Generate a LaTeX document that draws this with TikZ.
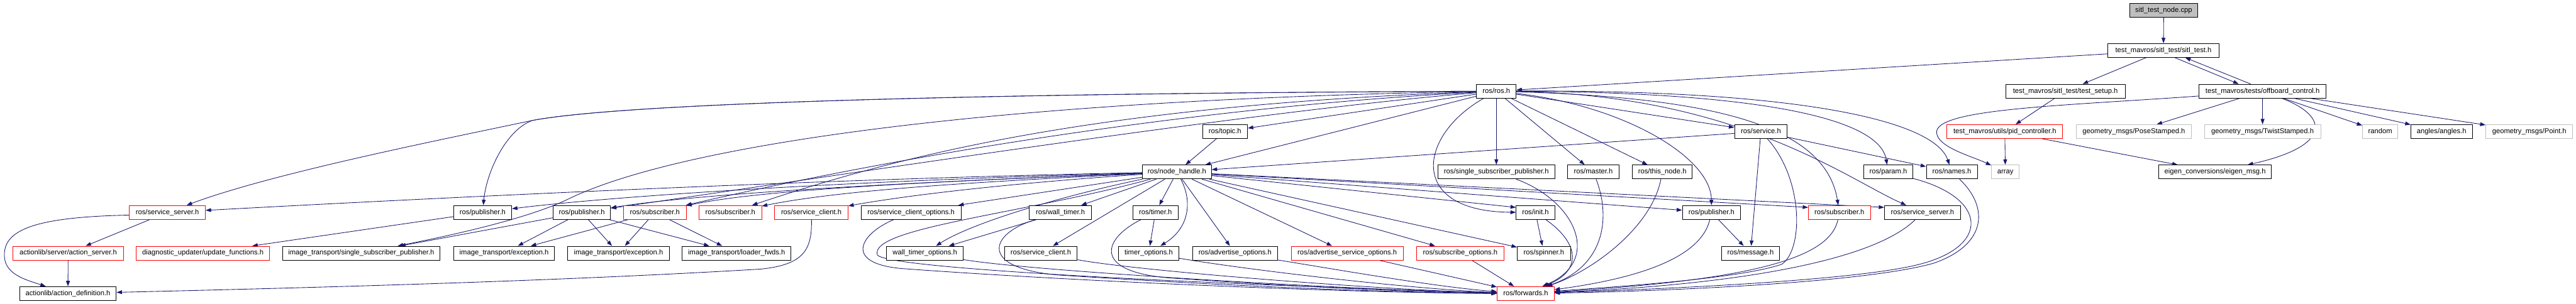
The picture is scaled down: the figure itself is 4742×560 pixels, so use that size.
\documentclass[tikz,border=0pt]{standalone}
\usepackage{fontspec}
\setmainfont{Liberation Sans}
\usetikzlibrary{arrows.meta}
\pgfdeclarelayer{background}
\pgfsetlayers{background,main}
\definecolor{edgec}{HTML}{191970}
\definecolor{redb}{HTML}{FF0000}
\definecolor{grayb}{HTML}{BFBFBF}
\definecolor{rootf}{HTML}{BFBFBF}
\tikzset{
  box/.style={draw=black, fill=white, line width=1pt, minimum height=25.5pt, inner sep=0pt,
    font=\fontsize{13pt}{15pt}\selectfont, text height=9.5pt, text depth=2.5pt},
  redbox/.style={box, draw=redb},
  graybox/.style={box, draw=grayb},
  rootbox/.style={box, fill=rootf},
  edge/.style={draw=edgec, line width=1pt, -{Triangle[length=10pt,width=7pt]}},
}
\begin{document}
\begin{tikzpicture}[x=1pt,y=-1pt]
\useasboundingbox (0,0) rectangle (4742,560);
% row 1-3
\node[rootbox, minimum width=126pt] (cpp) at (3983,19) {sitl\_test\_node.cpp};
\node[box, minimum width=205pt] (sitl) at (3982.5,93) {test\_mavros/sitl\_test/sitl\_test.h};
\node[box, minimum width=73pt] (ros) at (2754.5,168) {ros/ros.h};
\node[box, minimum width=220pt] (setup) at (3802,168) {test\_mavros/sitl\_test/test\_setup.h};
\node[box, minimum width=234pt] (off) at (4165,168) {test\_mavros/tests/offboard\_control.h};
% row 4
\node[box, minimum width=83pt] (topic) at (2255,242.5) {ros/topic.h};
\node[box, minimum width=97pt] (service) at (3241.5,242.5) {ros/service.h};
\node[redbox, minimum width=213pt] (pid) at (3690.5,242.5) {test\_mavros/utils/pid\_controller.h};
\node[graybox, minimum width=212pt] (pose) at (3928,242.5) {geometry\_msgs/PoseStamped.h};
\node[graybox, minimum width=214pt] (twist) at (4165,242.5) {geometry\_msgs/TwistStamped.h};
\node[graybox, minimum width=65pt] (random) at (4381.5,242.5) {random};
\node[box, minimum width=113pt] (angles) at (4494.5,242.5) {angles/angles.h};
\node[graybox, minimum width=160pt] (point) at (4656,242.5) {geometry\_msgs/Point.h};
% row 5
\node[box, minimum width=127pt] (nh) at (2166.5,317) {ros/node\_handle.h};
\node[box, minimum width=215pt] (ssp) at (2754.5,317) {ros/single\_subscriber\_publisher.h};
\node[box, minimum width=94pt] (master) at (2933,317) {ros/master.h};
\node[box, minimum width=110pt] (thisnode) at (3060,317) {ros/this\_node.h};
\node[box, minimum width=90pt] (param) at (3476,317) {ros/param.h};
\node[box, minimum width=94pt] (names) at (3593,317) {ros/names.h};
\node[graybox, minimum width=51pt] (array) at (3691.5,317) {array};
\node[box, minimum width=207pt] (eigen) at (4077.5,317) {eigen\_conversions/eigen\_msg.h};
% row 6
\node[redbox, minimum width=140pt] (ss1) at (308,391.5) {ros/service\_server.h};
\node[box, minimum width=107pt] (pub1) at (888.5,391.5) {ros/publisher.h};
\node[box, minimum width=106pt] (pub2) at (1071,391.5) {ros/publisher.h};
\node[redbox, minimum width=115pt] (sub1) at (1205.5,391.5) {ros/subscriber.h};
\node[redbox, minimum width=115pt] (sub2) at (1344.5,391.5) {ros/subscriber.h};
\node[redbox, minimum width=135pt] (sc1) at (1493.5,391.5) {ros/service\_client.h};
\node[box, minimum width=184pt] (sco) at (1677,391.5) {ros/service\_client\_options.h};
\node[box, minimum width=114pt] (wt) at (1952,391.5) {ros/wall\_timer.h};
\node[box, minimum width=84pt] (timer) at (2127,391.5) {ros/timer.h};
\node[box, minimum width=71pt] (init) at (2826.5,391.5) {ros/init.h};
\node[box, minimum width=107pt] (pub3) at (3150.5,391.5) {ros/publisher.h};
\node[redbox, minimum width=114pt] (sub3) at (3386,391.5) {ros/subscriber.h};
\node[box, minimum width=140pt] (ss2) at (3539,391.5) {ros/service\_server.h};
% row 7
\node[redbox, minimum width=203pt] (as) at (125.5,466.5) {actionlib/server/action\_server.h};
\node[redbox, minimum width=245pt] (uf) at (373.5,466.5) {diagnostic\_updater/update\_functions.h};
\node[box, minimum width=290pt] (itssp) at (665,466.5) {image\_transport/single\_subscriber\_publisher.h};
\node[box, minimum width=186pt] (ex1) at (928,466.5) {image\_transport/exception.h};
\node[box, minimum width=187pt] (ex2) at (1138.5,466.5) {image\_transport/exception.h};
\node[box, minimum width=200pt] (lf) at (1356,466.5) {image\_transport/loader\_fwds.h};
\node[box, minimum width=141pt] (wto) at (1702.5,466.5) {wall\_timer\_options.h};
\node[box, minimum width=134pt] (sc2) at (1916,466.5) {ros/service\_client.h};
\node[box, minimum width=111pt] (to) at (2114.5,466.5) {timer\_options.h};
\node[box, minimum width=157pt] (ao) at (2273.5,466.5) {ros/advertise\_options.h};
\node[redbox, minimum width=206pt] (aso) at (2480,466.5) {ros/advertise\_service\_options.h};
\node[redbox, minimum width=160pt] (so) at (2688,466.5) {ros/subscribe\_options.h};
\node[box, minimum width=98pt] (spin) at (2842,466.5) {ros/spinner.h};
\node[box, minimum width=107pt] (msg) at (3222.5,466.5) {ros/message.h};
% row 8
\node[box, minimum width=178pt] (ad) at (125,541) {actionlib/action\_definition.h};
\node[redbox, minimum width=105pt] (fwd) at (2808.5,541) {ros/forwards.h};

\begin{pgfonlayer}{background}
% top part
\draw[edge] (cpp) -- (sitl);
\draw[edge] (sitl) -- (ros);
\draw[edge] (sitl) -- (setup);
\draw[edge] ([xshift=21pt]sitl.south) -- ([xshift=-44pt]off.north);
\draw[edge] ([xshift=-22pt]off.north) -- ([xshift=40pt]sitl.south);
\draw[edge] (off) -- (pose);
\draw[edge] (off) -- (twist);
\draw[edge] (off) -- (random);
\draw[edge] (off) -- (angles);
\draw[edge] (off) -- (point);
\draw[edge] (off) .. controls (4290,215) and (4290,270) .. (eigen);
\draw[edge] ([yshift=-9pt]off.west) .. controls (3800,195) and (3560,200) .. (3565,245) .. controls (3568,272) and (3630,288) .. (array);
\draw[edge] (setup) -- (pid);
\draw[edge] (pid) -- (array);
\draw[edge] (pid) -- (eigen);
% ros.h
\draw[edge] (ros) -- (topic);
\draw[edge] (topic) -- (nh);
\draw[edge] (ros) -- (nh);
\draw[edge] (service) -- (nh);
\draw[edge] (ros) -- (service);
\draw[edge] (ros) -- (ssp);
\draw[edge] (ros) -- (master);
\draw[edge] (ros) -- (thisnode);
\draw[edge] (ros) .. controls (2610,250) and (2590,390) .. (init);
\draw[edge] (ros) .. controls (2990,195) and (3150,290) .. (pub3);
\draw[edge] (ros) .. controls (3150,180) and (3360,230) .. (sub3);
\draw[edge] (ros) .. controls (3200,175) and (3400,330) .. (ss2);
\draw[edge] (ros) .. controls (3250,170) and (3460,220) .. (param);
\draw[edge] (ros) .. controls (3300,165) and (3560,220) .. (names);
\draw[edge] (ros) .. controls (1800,172) and (1150,190) .. (980,222) .. controls (800,260) and (500,320) .. (ss1);
\draw[edge] (ros) .. controls (1800,172) and (1150,190) .. (980,222) .. controls (930,240) and (895,320) .. (pub1);
\draw[edge] (ros) .. controls (1800,185) and (1250,270) .. (1050,365) .. controls (980,400) and (850,430) .. (itssp);
\draw[edge] (ros) .. controls (2000,195) and (1650,290) .. (sub2);
\draw[edge] (ros) .. controls (2150,200) and (1600,300) .. (sub1);
\draw[edge] (ros) .. controls (2300,205) and (1500,330) .. (pub2);
% service.h
\draw[edge] (service) -- (names);
\draw[edge] (service) -- (msg);
\draw[edge] (service) .. controls (3320,330) and (3320,460) .. (3280,487) .. controls (3200,515) and (2950,530) .. (fwd);
% to forwards
\draw[edge] (ssp) .. controls (2900,370) and (2950,480) .. (fwd);
\draw[edge] (master) .. controls (2965,400) and (2955,490) .. (fwd);
\draw[edge] (thisnode) .. controls (3040,420) and (2930,500) .. (fwd);
\draw[edge] (init) .. controls (2910,450) and (2910,500) .. (fwd);
\draw[edge] (init) -- (spin);
\draw[edge] (pub3) .. controls (3130,480) and (3000,515) .. (fwd);
\draw[edge] (pub3) -- (msg);
\draw[edge] (sub3) .. controls (3370,470) and (3250,515) .. (fwd);
\draw[edge] (ss2) .. controls (3450,480) and (3200,525) .. (fwd);
\draw[edge] (param) .. controls (3660,365) and (3665,455) .. (3530,488) .. controls (3400,520) and (3000,535) .. (fwd);
\draw[edge] (names) .. controls (3660,380) and (3660,450) .. (3560,485) .. controls (3420,525) and (3000,538) .. (fwd);
\draw[edge] (so) -- (fwd);
\draw[edge] (aso) -- (fwd);
\draw[edge] (ao) .. controls (2450,495) and (2650,530) .. (fwd);
\draw[edge] (to) .. controls (2300,498) and (2600,533) .. (fwd);
\draw[edge] (sc2) .. controls (2100,500) and (2550,535) .. (fwd);
\draw[edge] (wto) .. controls (1900,500) and (2500,535) .. (fwd);
\draw[edge] (timer) .. controls (2030,440) and (2010,500) .. (2150,512) .. controls (2400,530) and (2650,540) .. (fwd);
\draw[edge] (wt) .. controls (1820,430) and (1800,495) .. (1950,507) .. controls (2300,530) and (2600,540) .. (fwd);
\draw[edge] (sco) .. controls (1585,430) and (1550,485) .. (1660,495) .. controls (2000,520) and (2500,540) .. (fwd);
\draw[edge] (nh) .. controls (1880,395) and (1600,420) .. (1615,470) .. controls (1640,500) and (2400,530) .. (fwd);
% node_handle.h
\draw[edge] (nh) -- (sco);
\draw[edge] (nh) -- (wt);
\draw[edge] (nh) -- (timer);
\draw[edge] (nh) .. controls (1960,360) and (1790,410) .. (wto);
\draw[edge] (wt) -- (wto);
\draw[edge] (nh) -- (sc2);
\draw[edge] (nh) .. controls (2195,370) and (2190,420) .. (to);
\draw[edge] (timer) -- (to);
\draw[edge] (nh) -- (ao);
\draw[edge] (nh) -- (aso);
\draw[edge] (nh) -- (so);
\draw[edge] (nh) -- (spin);
\draw[edge] (nh) -- ([yshift=-4pt]init.north west);
\draw[edge] (nh) -- (pub3);
\draw[edge] (nh) -- ([yshift=-4pt]sub3.north west);
\draw[edge] (nh) -- ([yshift=-4pt]ss2.north west);
\draw[edge] (nh) .. controls (1900,335) and (1700,355) .. (sc1);
\draw[edge] (nh) .. controls (1800,335) and (1550,350) .. (sub2);
\draw[edge] (nh) .. controls (1700,335) and (1400,350) .. (sub1);
\draw[edge] (nh) .. controls (1700,335) and (1300,355) .. (pub2);
\draw[edge] (nh) .. controls (1500,335) and (1100,365) .. (pub1);
\draw[edge] (nh) .. controls (1500,330) and (800,365) .. (ss1);
% left part
\draw[edge] (pub1) -- (uf);
\draw[edge] (ss1) -- (as);
\draw[edge] ([yshift=-5pt]ss1.west) .. controls (60,400) and (8,425) .. (8,470) .. controls (8,505) and (45,515) .. (ad);
\draw[edge] (as) -- (ad);
\draw[edge] (sc1) .. controls (1495,460) and (1480,488) .. (1400,496) .. controls (1000,520) and (500,532) .. (ad);
\draw[edge] (pub2) -- (itssp);
\draw[edge] (pub2) -- (ex1);
\draw[edge] (pub2) -- (ex2);
\draw[edge] (pub2) -- (lf);
\draw[edge] (sub1) -- (ex1);
\draw[edge] (sub1) -- (ex2);
\draw[edge] (sub1) -- (lf);
\end{pgfonlayer}
\end{tikzpicture}
\end{document}
